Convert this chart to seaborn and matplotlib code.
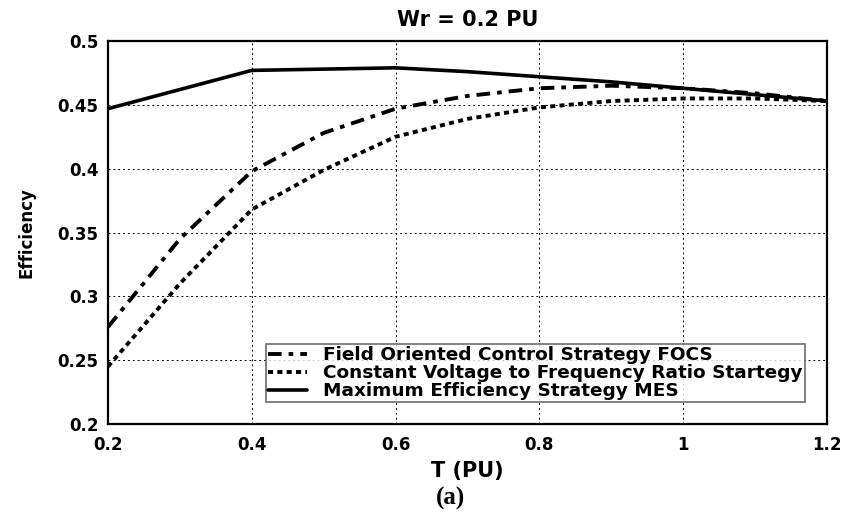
import matplotlib
matplotlib.use("Agg")
import matplotlib.pyplot as plt
import seaborn as sns
import pandas as pd

T = [0.2, 0.3, 0.4, 0.5, 0.6, 0.7, 0.8, 0.9, 1.0, 1.1, 1.2]
focs = [0.276, 0.345, 0.398, 0.428, 0.447, 0.457, 0.463, 0.465, 0.463, 0.459, 0.453]
cvf = [0.245, 0.310, 0.368, 0.399, 0.425, 0.439, 0.448, 0.453, 0.455, 0.455, 0.453]
T_mes = [0.2, 0.4, 0.5, 0.6, 0.7, 0.8, 0.9, 1.0, 1.1, 1.2]
mes = [0.447, 0.477, 0.478, 0.479, 0.476, 0.472, 0.468, 0.463, 0.458, 0.453]

labels = ["Field Oriented Control Strategy FOCS",
          "Constant Voltage to Frequency Ratio Startegy",
          "Maximum Efficiency Strategy MES"]
xticks = [0.2, 0.4, 0.6, 0.8, 1.0, 1.2]
xticklabels = ["0.2", "0.4", "0.6", "0.8", "1", "1.2"]
yticks = [0.2, 0.25, 0.3, 0.35, 0.4, 0.45, 0.5]
yticklabels = ["0.2", "0.25", "0.3", "0.35", "0.4", "0.45", "0.5"]

sns.set_theme(style="white")
plt.rcParams['font.family'] = ['DejaVu Sans']
plt.rcParams['text.color'] = 'black'
plt.rcParams['axes.labelcolor'] = 'black'

fig = plt.figure(figsize=(8.49, 5.16), dpi=100)
ax = fig.add_axes([0.1272, 0.1783, 0.8469, 0.7422])

df1 = pd.DataFrame({"T": T, "E": focs})
df2 = pd.DataFrame({"T": T, "E": cvf})
df3 = pd.DataFrame({"T": T_mes, "E": mes})

sns.lineplot(data=df1, x="T", y="E", ax=ax, color="black", lw=2.8,
             linestyle=(0, (3.5, 1.8, 1.2, 1.8)), label=labels[0])
sns.lineplot(data=df2, x="T", y="E", ax=ax, color="black", lw=2.8,
             linestyle=(0, (1.3, 1.1)), label=labels[1])
sns.lineplot(data=df3, x="T", y="E", ax=ax, color="black", lw=2.6,
             linestyle="-", label=labels[2])

ax.set_xlim(0.2, 1.2)
ax.set_ylim(0.2, 0.5)
ax.set_xticks(xticks)
ax.set_xticklabels(xticklabels)
ax.set_yticks(yticks)
ax.set_yticklabels(yticklabels)
ax.grid(True, color="black", linestyle=(0, (2, 3)), linewidth=0.7)
for s in ax.spines.values():
    s.set_color("black")
    s.set_linewidth(1.6)
ax.tick_params(axis="y", labelsize=12, colors="black", length=0, pad=7)
ax.tick_params(axis="x", labelsize=12, colors="black", length=0, pad=9)
for t in ax.get_xticklabels() + ax.get_yticklabels():
    t.set_fontweight("bold")

ax.set_xlabel("T (PU)", fontsize=15, fontweight="bold", labelpad=5)
ax.set_ylabel("Efficiency", fontsize=12, fontweight="bold", labelpad=16)
ax.set_title("Wr = 0.2 PU", fontsize=15, fontweight="bold", pad=11)

leg = ax.legend(loc="lower right", bbox_to_anchor=(0.969, 0.057),
                frameon=True, fancybox=False, edgecolor="#555555",
                handlelength=2.1, handletextpad=0.9, borderpad=0.1,
                labelspacing=0.0, borderaxespad=0,
                prop={"weight": "bold", "size": 13.3})
leg.get_frame().set_linewidth(1.3)

fig.text(0.531, 0.022, "(a)", fontsize=18, fontweight="bold",
         family=["Liberation Serif", "DejaVu Serif"], ha="center")

fig.savefig("out.png", dpi=100)
